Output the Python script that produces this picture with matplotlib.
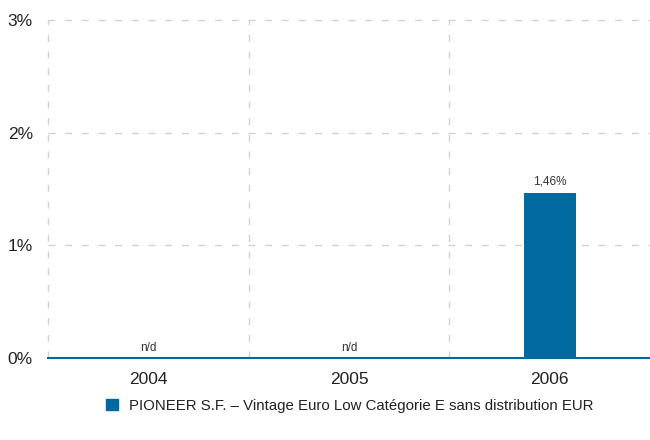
import matplotlib
matplotlib.use("Agg")
import matplotlib.pyplot as plt
from matplotlib.patches import Patch

plt.rcParams['font.family'] = ['Liberation Sans', 'DejaVu Sans']

years = ["2004", "2005", "2006"]
values = [None, None, 1.46]
series_name = "PIONEER S.F. – Vintage Euro Low Catégorie E sans distribution EUR"
yticks = [0, 1, 2, 3]
bar_color = "#00699f"
grid_color = "#d2d2d2"

fig = plt.figure(figsize=(6.5, 4.4), dpi=100)
ax = fig.add_axes([0.074, 0.186, 0.926, 0.769])

x = list(range(len(years)))
heights = [v if v is not None else 0 for v in values]
ax.bar(x, heights, width=0.26, color=bar_color, zorder=3)

for i, v in enumerate(values):
    if v is None:
        ax.text(i, 0.04, "n/d", ha="center", va="bottom", fontsize=8.5, color="#333333")
    else:
        ax.text(i, v + 0.05, ("%.2f%%" % v).replace(".", ","), ha="center", va="bottom",
                fontsize=8.5, color="#333333")

ax.set_xlim(-0.5, 2.5)
ax.set_ylim(0, 3)
ax.set_yticks(yticks)
ax.set_yticklabels(["%d%%" % t for t in yticks], fontsize=12.5, color="#222222")
ax.set_xticks(x)
ax.set_xticklabels(years, fontsize=12.5, color="#222222")
ax.tick_params(axis="y", length=0, pad=11)
ax.tick_params(axis="x", length=0, pad=10)

for t in yticks[1:]:
    ax.axhline(t, color=grid_color, linestyle=(0, (5, 7)), linewidth=1, zorder=1, clip_on=False)
for b in [-0.5, 0.5, 1.5]:
    ax.axvline(b, color=grid_color, linestyle=(0, (5, 7)), linewidth=1, zorder=1, clip_on=False)
ax.axhline(0, color=bar_color, linewidth=1.5, zorder=4, clip_on=False)

for s in ax.spines.values():
    s.set_visible(False)

fig.legend(handles=[Patch(color=bar_color, label=series_name)], loc="center left",
           bbox_to_anchor=(0.143, 0.078), frameon=False, fontsize=10.8,
           handlelength=0.8, handleheight=0.8, handletextpad=0.7, labelcolor="#222222")

fig.savefig("out.png", dpi=100)
